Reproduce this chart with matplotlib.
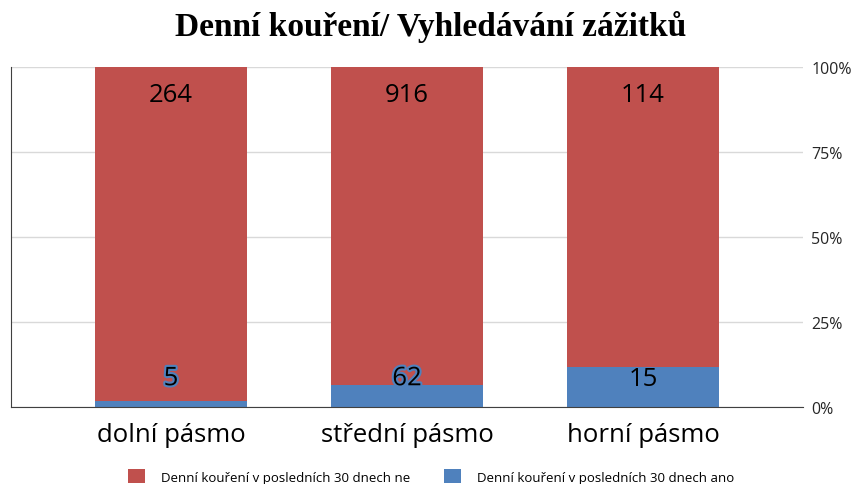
import numpy as np
import matplotlib.pyplot as plt
import matplotlib.patheffects as pe

# data
categories = ['dolní pásmo', 'střední pásmo', 'horní pásmo']
ne_counts = [264, 916, 114]
ano_counts = [5, 62, 15]
series_names = ['Denní kouření v posledních 30 dnech ne',
                'Denní kouření v posledních 30 dnech ano']
title = 'Denní kouření/ Vyhledávání zážitků'

red = '#C0504D'
blue = '#4F81BD'

ne = np.array(ne_counts, dtype=float)
ano = np.array(ano_counts, dtype=float)
total = ne + ano
ano_share = ano / total
ne_share = ne / total

plt.rcParams['font.family'] = ['Open Sans', 'DejaVu Sans']

fig = plt.figure(figsize=(8.62, 4.85), dpi=100)
ax = fig.add_axes([0.0128, 0.1588, 0.9188, 0.701])

x = np.arange(len(categories))
w = 0.645
b_ne = ax.bar(x, ne_share, w, bottom=ano_share, color=red, label=series_names[0], zorder=2)
b_ano = ax.bar(x, ano_share, w, color=blue, label=series_names[1], zorder=2)

# popisky hodnot
for i in range(len(categories)):
    ax.text(x[i], 0.92, str(ne_counts[i]), ha='center', va='center', fontsize=18.5, zorder=3)
    t = ax.text(x[i], 0.083, str(ano_counts[i]), ha='center', va='center', fontsize=18.5, zorder=3)
    if ano_share[i] < 0.085:
        t.set_path_effects([pe.withStroke(linewidth=3, foreground=blue)])

ax.set_xlim(-0.678, 2.678)
ax.set_ylim(0, 1)
ax.set_xticks(x)
ax.set_xticklabels(categories, fontsize=18.5)
ax.tick_params(axis='x', length=0, pad=11)
ax.yaxis.tick_right()
ax.set_yticks([0, 0.25, 0.5, 0.75, 1.0])
ax.set_yticklabels(['0%', '25%', '50%', '75%', '100%'], fontsize=11.5)
ax.tick_params(axis='y', length=0, pad=6, colors='#262626')
ax.grid(axis='y', color='#d9d9d9', linewidth=1, zorder=0)
for s in ['top', 'right']:
    ax.spines[s].set_visible(False)
ax.spines['left'].set_color('#404040')
ax.spines['bottom'].set_color('#404040')

fig.text(0.5, 0.945, title, ha='center', va='center', fontsize=24, fontweight='bold',
         family=['Liberation Serif', 'DejaVu Serif'])

leg = fig.legend(handles=[b_ne, b_ano], loc='center', bbox_to_anchor=(0.5, 0.016),
                 ncol=2, frameon=False, fontsize=9.5, handlelength=1.3, handleheight=1.3,
                 columnspacing=2.6, handletextpad=1.2)

fig.savefig('out.png', dpi=100)
